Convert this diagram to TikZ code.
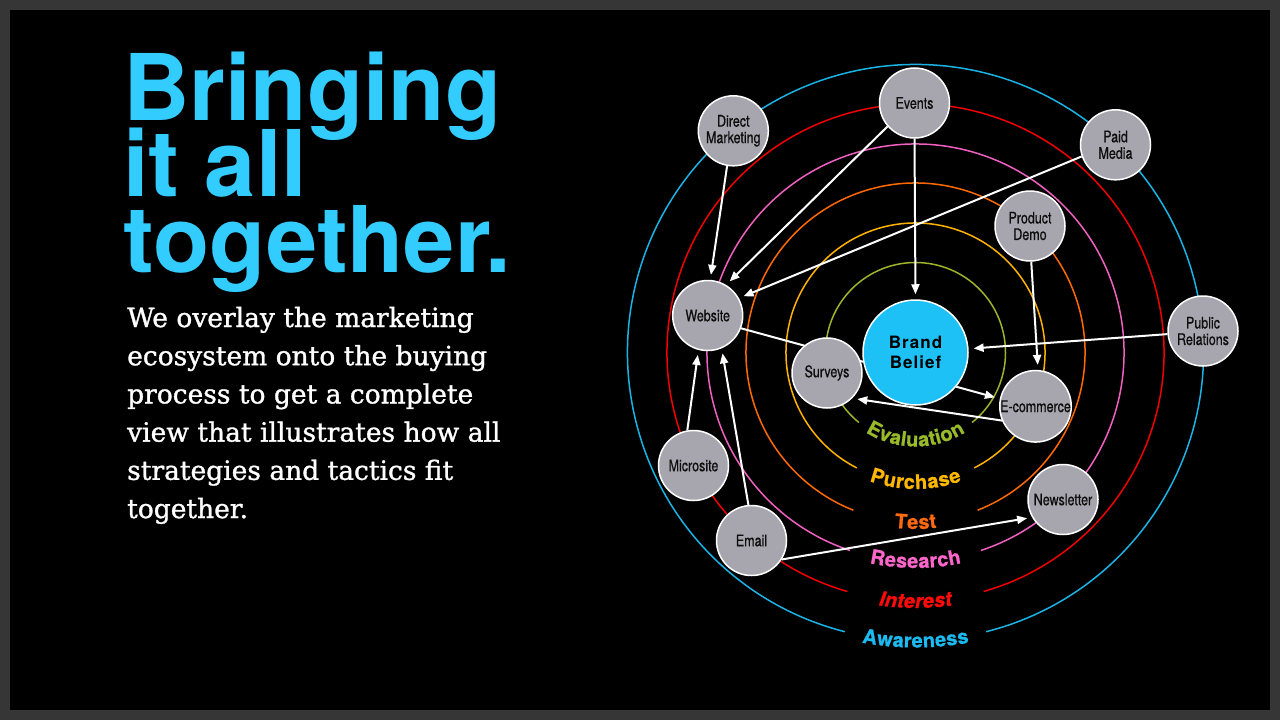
\documentclass[tikz,border=0pt]{standalone}
\usepackage{fontspec}
\usetikzlibrary{arrows.meta,decorations.text,calc}
\setmainfont{DejaVu Serif}
\newfontfamily\headfont{TeX Gyre Heros}
\newfontfamily\nodefont{TeX Gyre Heros}[FakeStretch=0.78,FakeBold=0.6]
\newfontfamily\brandfont{TeX Gyre Heros}[LetterSpace=6]
\newfontfamily\bodyfont{DejaVu Serif}[FakeBold=1.2]
\newfontfamily\stagefamily{TeX Gyre Heros}[FakeBold=0.8]
\newcommand\stagefnt{\stagefamily\bfseries\fontsize{20}{24}\selectfont}

\definecolor{framegray}{HTML}{363636}
\definecolor{titleblue}{HTML}{33CCFF}
\definecolor{nodegray}{HTML}{A7A6AE}
\definecolor{nodetext}{HTML}{0E0E0E}
\definecolor{brandblue}{HTML}{1DC1F5}
\definecolor{ringcyan}{HTML}{1AB3E6}
\definecolor{ringred}{HTML}{F00000}
\definecolor{ringpink}{HTML}{F060C0}
\definecolor{ringorange}{HTML}{FF6A00}
\definecolor{ringyellow}{HTML}{FFB300}
\definecolor{ringgreen}{HTML}{9CB52A}
\definecolor{lblcyan}{HTML}{1BBBF2}
\definecolor{lblred}{HTML}{FF0A0A}
\definecolor{lblpink}{HTML}{FF66CC}
\definecolor{lblorange}{HTML}{FF6A10}
\definecolor{lblyellow}{HTML}{FFB800}
\definecolor{lblgreen}{HTML}{99BB2A}

\pgfdeclarelayer{back}
\pgfdeclarelayer{mid}
\pgfsetlayers{back,mid,main}

\tikzset{
  tac/.style={circle, draw=white, line width=1.5pt, fill=nodegray, minimum size=70pt,
    inner sep=0pt, align=center, text=nodetext, font=\nodefont\fontsize{16}{16.5}\selectfont},
  brand/.style={circle, draw=white, line width=1.5pt, fill=brandblue, minimum size=105pt,
    inner sep=0pt, align=center, text=black, font=\brandfont\bfseries\fontsize{17}{20.5}\selectfont},
  ring/.style={line width=1.5pt},
  arr/.style={draw=white, line width=2pt, -{Triangle[length=10pt,width=8pt]}, shorten >=5pt},
  conn/.style={draw=white, line width=2pt},
  titletxt/.style={anchor=base west, inner sep=0pt, text=titleblue,
    font=\headfont\bfseries\fontsize{92}{92}\selectfont},
  bodytxt/.style={anchor=base west, inner sep=0pt, text=white,
    font=\bodyfont\fontsize{26.5}{30}\selectfont},
  stagelbl/.style n args={3}{decorate, decoration={text along path,
    text={|\stagefnt\color{#1}|#2}, text align=center, raise=#3}},
  stagelblit/.style n args={3}{decorate, decoration={text along path,
    text={|\stagefnt\itshape\color{#1}|#2}, text align=center, raise=#3}}
}

\begin{document}
\begin{tikzpicture}[x=1pt,y=1pt]
\useasboundingbox (0,0) rectangle (1280,-720);

% title and body text
\node[titletxt] (t1) at (123,-120) {Bringing};
\node[titletxt] (t2) at (123,-196.5) {it all};
\node[titletxt] (t3) at (123,-272) {together.};

\foreach \i/\t/\yy in {1/We overlay the marketing/327,
  2/ecosystem onto the buying/365.2,
  3/process to get a complete/403.4,
  4/view that illustrates how all/441.6,
  5/strategies and tactics fit/479.8,
  6/together./518}
  \node[bodytxt] (body\i) at (127,-\yy) {\t};

% nodes
\node[tac] (dm) at (733.3,-130.8) {Direct\\Marketing};
\node[tac] (ev) at (914.5,-103) {Events};
\node[tac] (pm) at (1115.5,-144.8) {Paid\\Media};
\node[tac] (pd) at (1030,-226) {Product\\Demo};
\node[tac] (web) at (707.7,-315.5) {Website};
\node[tac] (pr) at (1203,-331) {Public\\Relations};
\node[brand] (bb) at (915.5,-352.5) {Brand\\Belief};
\node[tac] (sv) at (827,-373) {Surveys};
\node[tac] (ec) at (1035.5,-406.3) {E-commerce};
\node[tac] (ms) at (693.5,-465.5) {Microsite};
\node[tac] (em) at (751.5,-540.5) {Email};
\node[tac] (nl) at (1063,-499.5) {Newsletter};

\coordinate (c) at (915.5,-352.5);

\begin{pgfonlayer}{back}
  \fill[framegray] (0,0) rectangle (1280,-720);
  \fill[black] (10,-10) rectangle (1270,-710);
  \foreach \r/\a/\col in {288/14.2/ringcyan, 248.5/15.9/ringred, 208.5/18.3/ringpink,
                          169.5/21.5/ringorange, 129.5/27/ringyellow, 90/39/ringgreen}
    \draw[ring, \col] (c) ++({270+\a}:\r pt) arc[start angle={270+\a}, end angle={630-\a}, radius=\r pt];
  \path[stagelbl={lblcyan}{Awareness}{-7pt}] (c) ++(235:288pt) arc[start angle=235, end angle=305, radius=288pt];
  \path[stagelblit={lblred}{Interest}{-7pt}] (c) ++(235:248.5pt) arc[start angle=235, end angle=305, radius=248.5pt];
  \path[stagelbl={lblpink}{Research}{-7pt}] (c) ++(235:208.5pt) arc[start angle=235, end angle=305, radius=208.5pt];
  \path[stagelbl={lblorange}{Test}{-7pt}] (c) ++(235:169.5pt) arc[start angle=235, end angle=305, radius=169.5pt];
  \path[stagelbl={lblyellow}{Purchase}{-7pt}] (c) ++(225:129.5pt) arc[start angle=225, end angle=315, radius=129.5pt];
  \path[stagelbl={lblgreen}{Evaluation}{-4pt}] (c) ++(220:90pt) arc[start angle=220, end angle=320, radius=90pt];
\end{pgfonlayer}

\begin{pgfonlayer}{mid}
  \draw[arr] (dm.260) -- (web.86);
  \draw[arr] (ev.221) -- (web.59);
  \draw[arr] (ev.south) -- (bb.north);
  \draw[arr] (pm.199) -- (web.29);
  \draw[arr] (pd.272) -- (ec.86.5);
  \draw[arr] (pr.185) -- (bb.4.5);
  \draw[conn] (web.-21) -- (bb.190);
  \draw[arr] (bb.-40) -- (ec.168);
  \draw[arr] (ec.203) -- (sv.-45);
  \draw[arr] (ms.100) -- (web.255);
  \draw[arr] (em.95) -- (web.293);
  \draw[arr] (em.-32) -- (nl.210);
\end{pgfonlayer}
\end{tikzpicture}
\end{document}
